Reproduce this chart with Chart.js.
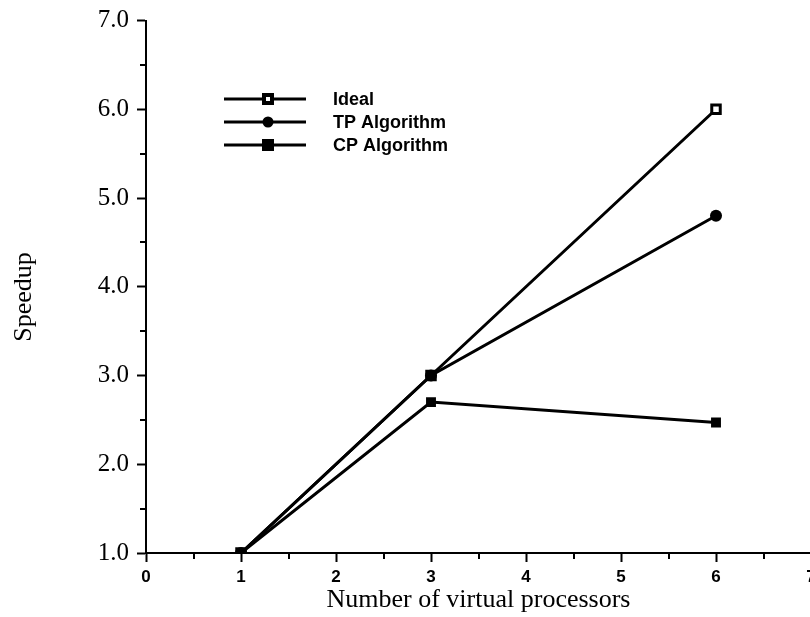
<!DOCTYPE html>
<html>
<head>
<meta charset="utf-8">
<script src="https://cdn.jsdelivr.net/npm/chart.js@4/dist/chart.umd.min.js"></script>
<style>
    html, body { margin: 0; padding: 0; background: #fff; overflow: hidden; }
    #wrap { width: 822px; height: 617px; }
</style>
</head>
<body>
<div id="wrap"><canvas id="speedupChart"></canvas></div>
<script>
// Data
const processors = [1, 3, 6];
const idealSpeedup = [1, 3, 6];
const tpSpeedup = [1, 3, 4.8];
const cpSpeedup = [1, 2.7, 2.47];
const seriesNames = ['Ideal', 'TP Algorithm', 'CP Algorithm'];
const yTitle = 'Speedup';

const serif = '"Liberation Serif", "DejaVu Serif", serif';
const sans = '"Liberation Sans", Arial, sans-serif';

function toPoints(values) {
    return processors.map((x, i) => ({ x, y: values[i] }));
}

// small ticks at the half steps
const minorTicks = {
    id: 'minorTicks',
    afterDraw(chart) {
        const { ctx, scales: { x, y } } = chart;
        ctx.save();
        ctx.strokeStyle = '#000';
        ctx.lineWidth = 2;
        ctx.beginPath();
        for (let v = 0.5; v < 7; v += 1) {
            const px = Math.round(x.getPixelForValue(v));
            ctx.moveTo(px, x.top);
            ctx.lineTo(px, x.top + 6);
        }
        for (let v = 1.5; v < 7; v += 1) {
            const py = Math.round(y.getPixelForValue(v));
            ctx.moveTo(y.right - 6, py);
            ctx.lineTo(y.right, py);
        }
        ctx.stroke();
        ctx.restore();
    }
};

// y title sits a little below the middle of the axis in the original
const sideTitle = {
    id: 'sideTitle',
    afterDraw(chart) {
        const { ctx } = chart;
        ctx.save();
        ctx.translate(24, 297);
        ctx.rotate(-Math.PI / 2);
        ctx.fillStyle = '#000';
        ctx.font = '26px ' + serif;
        ctx.textAlign = 'center';
        ctx.textBaseline = 'middle';
        ctx.fillText(yTitle, 0, 0);
        ctx.restore();
    }
};

// legend sits inside the plot, top left
const insideLegend = {
    id: 'insideLegend',
    afterDraw(chart) {
        const { ctx } = chart;
        const rows = [99, 122, 145];
        ctx.save();
        chart.data.datasets.forEach((ds, i) => {
            const y = rows[i];
            ctx.strokeStyle = '#000';
            ctx.lineWidth = 3;
            ctx.beginPath();
            ctx.moveTo(224, y);
            ctx.lineTo(306, y);
            ctx.stroke();
            ctx.fillStyle = '#000';
            if (ds.pointStyle === 'circle') {
                ctx.beginPath();
                ctx.arc(268, y, 5.5, 0, Math.PI * 2);
                ctx.fill();
            } else {
                ctx.fillRect(262, y - 6, 12, 12);
                ctx.fillStyle = ds.pointBackgroundColor;
                ctx.fillRect(266, y - 2, 4, 4);
            }
            ctx.fillStyle = '#000';
            ctx.font = 'bold 18px ' + sans;
            ctx.textBaseline = 'middle';
            ctx.fillText(ds.label, 333, y + 1);
        });
        ctx.restore();
    }
};

new Chart(document.getElementById('speedupChart'), {
    type: 'line',
    data: {
        datasets: [
            {
                label: seriesNames[0],
                data: toPoints(idealSpeedup),
                order: 3,
                borderColor: '#000',
                borderWidth: 3,
                pointStyle: 'rect',
                pointRadius: 6,
                pointBorderWidth: 3,
                pointBorderColor: '#000',
                pointBackgroundColor: '#fff'
            },
            {
                label: seriesNames[1],
                data: toPoints(tpSpeedup),
                order: 2,
                borderColor: '#000',
                borderWidth: 3,
                pointStyle: 'circle',
                pointRadius: 6,
                pointBorderWidth: 0,
                pointBackgroundColor: '#000'
            },
            {
                label: seriesNames[2],
                data: toPoints(cpSpeedup),
                order: 1,
                borderColor: '#000',
                borderWidth: 3,
                pointStyle: 'rect',
                pointRadius: 7,
                pointBorderWidth: 0,
                pointBackgroundColor: '#000'
            }
        ]
    },
    options: {
        responsive: true,
        maintainAspectRatio: false,
        animation: false,
        layout: { padding: { top: 19, right: 11, left: 0, bottom: 0 } },
        plugins: {
            legend: { display: false },
            tooltip: { enabled: false }
        },
        scales: {
            x: {
                type: 'linear',
                min: 0,
                max: 7,
                afterFit(scale) { scale.height = 64; },
                ticks: {
                    stepSize: 1,
                    color: '#000',
                    font: { family: sans, size: 17, weight: 'bold' },
                    padding: 5
                },
                grid: {
                    drawOnChartArea: false,
                    tickLength: 9,
                    tickWidth: 2,
                    tickColor: '#000'
                },
                border: { color: '#000', width: 2 },
                title: {
                    display: true,
                    text: 'Number of virtual processors',
                    color: '#000',
                    font: { family: serif, size: 26 },
                    padding: { top: 0, bottom: 1 }
                }
            },
            y: {
                min: 1,
                max: 7,
                afterFit(scale) { scale.width = 146; },
                ticks: {
                    stepSize: 1,
                    color: '#000',
                    font: { family: serif, size: 25, lineHeight: 1 },
                    padding: 8,
                    callback: v => v.toFixed(1)
                },
                grid: {
                    drawOnChartArea: false,
                    tickLength: 9,
                    tickWidth: 2,
                    tickColor: '#000'
                },
                border: { color: '#000', width: 2 },
                title: { display: false }
            }
        }
    },
    plugins: [minorTicks, sideTitle, insideLegend]
});
</script>
</body>
</html>
